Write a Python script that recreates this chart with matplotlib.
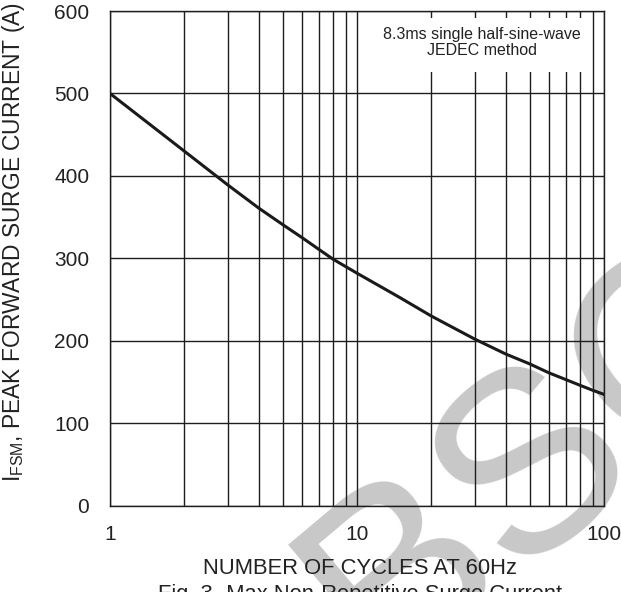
import matplotlib
matplotlib.use("Agg")
import matplotlib.pyplot as plt
from matplotlib.patches import Rectangle

plt.rcParams['font.family'] = ['Liberation Sans', 'DejaVu Sans']
plt.rcParams['mathtext.default'] = 'regular'

# surge current vs number of cycles
cycles = [1, 2, 3, 4, 5, 6, 7, 8, 9, 10, 15, 20, 30, 40, 50, 60, 70, 80, 90, 100]
current = [500, 430, 389, 361, 341, 325, 311, 299, 290, 282, 252, 230, 202,
           184, 172, 161, 153, 146, 140, 135]

yticks = [0, 100, 200, 300, 400, 500, 600]
xticks = [1, 10, 100]
xticklabels = ['1', '10', '100']

fig = plt.figure(figsize=(6.21, 5.92), dpi=100)
ax = fig.add_axes([0.1771, 0.1458, 0.7955, 0.8356])
ax.set_facecolor('none')

ax.set_xscale('log')
ax.set_xlim(1, 100)
ax.set_ylim(0, 600)

grid_kw = dict(color='#1e1e1e', lw=1.0)
ax.grid(True, which='both', axis='x', **grid_kw)
ax.grid(True, which='major', axis='y', **grid_kw)
ax.set_axisbelow(True)

ax.plot(cycles, current, color='#1a1a1a', lw=2.2, zorder=3)

ax.set_yticks(yticks)
ax.set_xticks(xticks)
ax.set_xticklabels(xticklabels)
ax.xaxis.set_minor_formatter(matplotlib.ticker.NullFormatter())
ax.tick_params(which='both', length=0, labelsize=15, colors='#222222')
ax.tick_params(axis='y', pad=15)
ax.tick_params(axis='x', pad=14)
for s in ax.spines.values():
    s.set_color('#1e1e1e')
    s.set_linewidth(1.0)

# note box
ax.add_patch(Rectangle((0.536, 0.877), 0.44, 0.109, transform=ax.transAxes,
                       facecolor='white', edgecolor='none', zorder=4))
ax.text(0.753, 0.936, '8.3ms single half-sine-wave\nJEDEC method',
        transform=ax.transAxes, ha='center', va='center', fontsize=11.5,
        color='#222222', linespacing=1.05, zorder=5)

fig.text(14 / 621, 1 - 242 / 592, r'I$_{FSM}$, PEAK FORWARD SURGE CURRENT (A)',
         rotation=90, ha='center', va='center', fontsize=16.4, color='#222222')
fig.text(360 / 621, 1 - 569 / 592, 'NUMBER OF CYCLES AT 60Hz', ha='center',
         va='center', fontsize=15.8, color='#222222')
fig.text(360 / 621, 1 - 584 / 592, 'Fig. 3- Max Non-Repetitive Surge Current',
         ha='center', va='top', fontsize=15.8, color='#222222')

# watermark
fig.text(0.87, 0.225, 'BSC', fontsize=185, rotation=40, color='#c8c8c8',
         ha='center', va='center', zorder=-1)

fig.savefig('out.png', dpi=100)
